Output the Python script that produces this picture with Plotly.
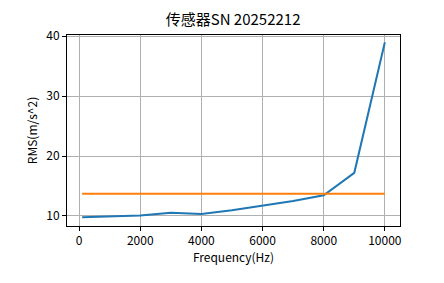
import plotly.graph_objects as go

freq = [100, 1000, 2000, 3000, 4000, 5000, 6000, 7000, 8000, 9000, 10000]
rms = [9.78, 9.98, 10.1, 10.55, 10.33, 10.95, 11.67, 12.5, 13.45, 17.2, 39.0]
threshold = 13.7
title_text = "传感器SN 20252212"
xlabel = "Frequency(Hz)"
ylabel = "RMS(m/s^2)"

font = "Noto Sans CJK SC"

fig = go.Figure()
fig.add_trace(go.Scatter(x=freq, y=rms, mode="lines",
                         line=dict(color="#1f77b4", width=2), showlegend=False))
fig.add_trace(go.Scatter(x=[freq[0], freq[-1]], y=[threshold, threshold], mode="lines",
                         line=dict(color="#ff7f0e", width=2), showlegend=False))

axis_common = dict(showline=True, linecolor="black", linewidth=1, mirror=True,
                   ticks="outside", ticklen=4, tickcolor="black", tickwidth=1,
                   showgrid=True, gridcolor="#b0b0b0", gridwidth=1, zeroline=False,
                   tickformat="d",
                   tickfont=dict(family=font, size=12, color="black"))

fig.update_layout(
    width=444, height=283,
    margin=dict(l=67, r=44, t=35, b=57),
    paper_bgcolor="white", plot_bgcolor="white",
    title=dict(text=title_text, x=0.525, xanchor="center", y=1 - 20 / 283, yanchor="middle",
               yref="container", font=dict(family=font, size=15, color="black")),
    xaxis=dict(range=[-395, 10495], dtick=2000, tick0=0,
               title=dict(text=xlabel, standoff=4, font=dict(family=font, size=12, color="black")),
               **axis_common),
    yaxis=dict(range=[8.33, 40.2], dtick=10, tick0=0,
               title=dict(text=ylabel, standoff=6, font=dict(family=font, size=12, color="black")),
               **axis_common),
)

fig.write_html("out.html")
